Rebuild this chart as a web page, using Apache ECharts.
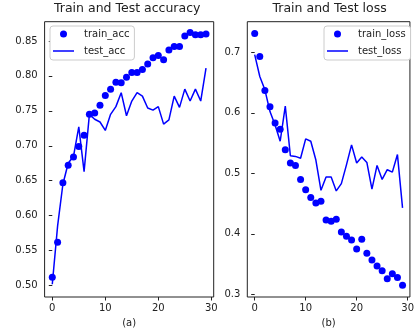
<!DOCTYPE html>
<html>
<head>
<meta charset="utf-8">
<script src="https://cdn.jsdelivr.net/npm/echarts@6/dist/echarts.min.js"></script>
<style>
    html, body {margin: 0; padding: 0; background: #fff;}
    #chart {width: 417px; height: 333px;}
</style>
</head>
<body>
<div id="chart"></div>
<script>
var epochs = [0, 1, 2, 3, 4, 5, 6, 7, 8, 9, 10, 11, 12, 13, 14, 15, 16, 17, 18, 19, 20, 21, 22, 23, 24, 25, 26, 27, 28, 29];
var trainAcc = [0.512, 0.562, 0.647, 0.672, 0.684, 0.699, 0.715, 0.745, 0.747, 0.758, 0.772, 0.781, 0.791, 0.790, 0.798,
    0.805, 0.805, 0.809, 0.817, 0.826, 0.829, 0.823, 0.837, 0.842, 0.842, 0.857, 0.862, 0.859, 0.859, 0.860];
var testAcc = [0.502, 0.585, 0.645, 0.675, 0.685, 0.727, 0.663, 0.745, 0.738, 0.734, 0.722, 0.745, 0.756, 0.776, 0.743,
    0.764, 0.776, 0.771, 0.754, 0.751, 0.756, 0.731, 0.737, 0.771, 0.755, 0.781, 0.764, 0.781, 0.764, 0.811];
var trainLoss = [0.731, 0.693, 0.637, 0.610, 0.583, 0.573, 0.539, 0.517, 0.513, 0.490, 0.473, 0.460, 0.451, 0.454, 0.423,
    0.421, 0.424, 0.403, 0.396, 0.390, 0.375, 0.391, 0.368, 0.357, 0.347, 0.339, 0.326, 0.334, 0.328, 0.315];
var testLoss = [0.696, 0.660, 0.638, 0.602, 0.580, 0.553, 0.611, 0.529, 0.528, 0.525, 0.557, 0.553, 0.522, 0.472, 0.494,
    0.494, 0.471, 0.483, 0.514, 0.547, 0.517, 0.527, 0.518, 0.474, 0.513, 0.490, 0.506, 0.502, 0.531, 0.443];
var xTicks = [0, 10, 20, 30];
var accTicks = [0.50, 0.55, 0.60, 0.65, 0.70, 0.75, 0.80, 0.85];
var lossTicks = [0.3, 0.4, 0.5, 0.6, 0.7];

var font = 'DejaVu Sans';
var ink = '#222';
var blue = '#0000ff';
// thin bar used as the legend handle of the line series
var lineIcon = 'path://M0,0 L21,0 L21,1.5 L0,1.5 Z';

function pairs(xs, ys) {
    var out = [];
    for (var i = 0; i < xs.length; i++) {
        out.push([xs[i], ys[i]]);
    }
    return out;
}

function xAxis(idx, name) {
    return {
        type: 'value', gridIndex: idx, min: -1.45, max: 30.45,
        name: name, nameLocation: 'middle', nameGap: 21,
        nameTextStyle: {fontFamily: font, fontSize: 10, color: ink},
        axisLine: {show: false},
        axisTick: {show: true, inside: false, length: 3.5, customValues: xTicks, lineStyle: {color: ink, width: 1}},
        axisLabel: {customValues: xTicks, margin: 6, fontFamily: font, fontSize: 10, color: ink},
        splitLine: {show: false}
    };
}

function yAxis(idx, lo, hi, ticks, digits) {
    return {
        type: 'value', gridIndex: idx, min: lo, max: hi,
        axisLine: {show: false},
        axisTick: {show: true, inside: false, length: 3.5, customValues: ticks, lineStyle: {color: ink, width: 1}},
        axisLabel: {
            customValues: ticks, margin: 7, fontFamily: font, fontSize: 10, color: ink,
            formatter: function (v) { return v.toFixed(digits); }
        },
        splitLine: {show: false}
    };
}

function legend(left, dots, line) {
    return {
        data: [{name: dots, icon: 'circle'}, {name: line, icon: lineIcon}],
        orient: 'vertical', left: left, top: 26, symbolKeepAspect: true,
        itemWidth: 21, itemHeight: 7, itemGap: 7, padding: [3, 5, 4, 3],
        borderColor: '#cccccc', borderWidth: 1, borderRadius: 3, backgroundColor: '#fff',
        textStyle: {fontFamily: font, fontSize: 10, color: ink, padding: [0, 0, 0, 5]}
    };
}

var chart = echarts.init(document.getElementById('chart'), null, {renderer: 'canvas'});
chart.setOption({
    animation: false,
    backgroundColor: '#fff',
    title: [
        {text: 'Train and Test accuracy', left: 54, top: 2, padding: 0,
            textStyle: {fontFamily: font, fontSize: 12.5, fontWeight: 'normal', color: ink}},
        {text: 'Train and Test loss', left: 272.5, top: 2, padding: 0,
            textStyle: {fontFamily: font, fontSize: 12.5, fontWeight: 'normal', color: ink}}
    ],
    grid: [
        {left: 44.6, top: 21.7, width: 169.1, height: 276, show: true, borderColor: ink, borderWidth: 1},
        {left: 247.3, top: 21.7, width: 168.6, height: 276, show: true, borderColor: ink, borderWidth: 1}
    ],
    legend: [legend(50, 'train_acc', 'test_acc'), legend(324, 'train_loss', 'test_loss')],
    xAxis: [xAxis(0, '(a)'), xAxis(1, '(b)')],
    yAxis: [yAxis(0, 0.4837, 0.8775, accTicks, 2), yAxis(1, 0.2957, 0.7505, lossTicks, 1)],
    series: [
        {name: 'train_acc', type: 'scatter', xAxisIndex: 0, yAxisIndex: 0, symbolSize: 7,
            itemStyle: {color: blue, opacity: 1}, data: pairs(epochs, trainAcc)},
        {name: 'test_acc', type: 'line', xAxisIndex: 0, yAxisIndex: 0, symbol: 'none',
            lineStyle: {color: blue, width: 1.5}, itemStyle: {color: blue}, data: pairs(epochs, testAcc)},
        {name: 'train_loss', type: 'scatter', xAxisIndex: 1, yAxisIndex: 1, symbolSize: 7,
            itemStyle: {color: blue, opacity: 1}, data: pairs(epochs, trainLoss)},
        {name: 'test_loss', type: 'line', xAxisIndex: 1, yAxisIndex: 1, symbol: 'none',
            lineStyle: {color: blue, width: 1.5}, itemStyle: {color: blue}, data: pairs(epochs, testLoss)}
    ]
});
</script>
</body>
</html>
